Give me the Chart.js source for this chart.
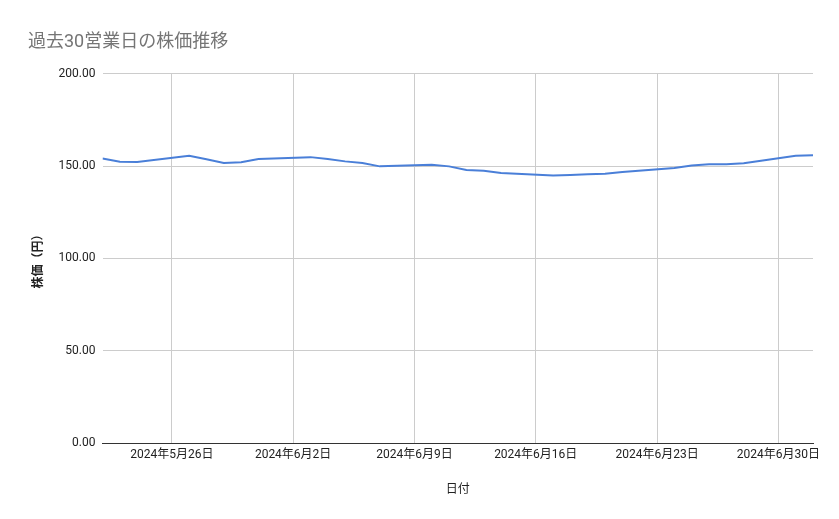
<!DOCTYPE html>
<html>
<head>
<meta charset="utf-8">
<script src="https://cdn.jsdelivr.net/npm/chart.js@4.4.1/dist/chart.umd.min.js"></script>
<style>
html,body{margin:0;padding:0;background:#fff;}
#wrap{width:839px;height:519px;}
</style>
</head>
<body>
<div id="wrap"><canvas id="c" width="839" height="519"></canvas></div>
<script>
const chartTitle = "過去30営業日の株価推移";
const xTitle = "日付";
const yTitle = "株価（円）";
const startDate = "2024-05-22";
const endDate = "2024-07-02";
const dates = [
  "2024-05-22","2024-05-23","2024-05-24",
  "2024-05-27","2024-05-28","2024-05-29","2024-05-30","2024-05-31",
  "2024-06-03","2024-06-04","2024-06-05","2024-06-06","2024-06-07",
  "2024-06-10","2024-06-11","2024-06-12","2024-06-13","2024-06-14",
  "2024-06-17","2024-06-18","2024-06-19","2024-06-20","2024-06-21",
  "2024-06-24","2024-06-25","2024-06-26","2024-06-27","2024-06-28",
  "2024-07-01","2024-07-02"
];
const prices = [
  154.0,152.3,152.2,
  155.6,153.6,151.6,152.0,153.8,
  154.8,153.8,152.5,151.6,149.8,
  150.7,149.8,147.8,147.4,146.2,
  144.8,145.1,145.5,145.8,146.7,
  148.9,150.3,150.9,150.9,151.5,
  155.6,155.8
];
const xTickDates = ["2024-05-26","2024-06-02","2024-06-09","2024-06-16","2024-06-23","2024-06-30"];
const yTicks = [0,50,100,150,200];

const DAY = 86400000;
const t0 = Date.UTC(2024,4,22);
function dayIndex(s){const p=s.split('-').map(Number);return (Date.UTC(p[0],p[1]-1,p[2])-t0)/DAY;}
function fmt(d){const dt=new Date(t0+d*DAY);return dt.getUTCFullYear()+"年"+(dt.getUTCMonth()+1)+"月"+dt.getUTCDate()+"日";}

const pts = dates.map((d,i)=>({x:dayIndex(d),y:prices[i]}));
const FONT = "Roboto, 'Noto Sans CJK JP', sans-serif";

new Chart(document.getElementById('c'),{
  type:'line',
  data:{datasets:[{data:pts,borderColor:'#4a7fd8',borderWidth:2,pointRadius:0,tension:0,fill:false}]},
  options:{
    responsive:false,animation:false,
    layout:{padding:{left:28,right:26,top:0,bottom:19}},
    plugins:{
      legend:{display:false},tooltip:{enabled:false},
      title:{display:true,text:chartTitle,align:'start',color:'#757575',
        font:{family:FONT,size:18,weight:'normal'},padding:{top:32,bottom:20}}
    },
    scales:{
      x:{type:'linear',min:dayIndex(startDate),max:dayIndex(endDate),
        afterBuildTicks:(s)=>{s.ticks=xTickDates.map(d=>({value:dayIndex(d)}));},
        ticks:{callback:(v)=>fmt(v),color:'#222',font:{family:FONT,size:12},maxRotation:0,autoSkip:false,padding:5},
        grid:{color:'#cccccc',drawTicks:false},
        border:{color:'#333333',width:1},
        title:{display:true,text:xTitle,color:'#222',font:{family:FONT,size:12},padding:{top:15,bottom:3}}
      },
      y:{min:0,max:200,
        afterBuildTicks:(s)=>{s.ticks=yTicks.map(v=>({value:v}));},
        afterFit:(s)=>{s.width=74.5;},
        ticks:{callback:(v)=>v.toFixed(2),color:'#222',font:{family:FONT,size:12},padding:7},
        grid:{color:(ctx)=>ctx.tick&&ctx.tick.value===0?'#333333':'#cccccc',drawTicks:false},
        border:{display:false},
        title:{display:true,text:yTitle,color:'#222',font:{family:FONT,size:12,weight:'bold'}}
      }
    }
  }
});
</script>
</body>
</html>
